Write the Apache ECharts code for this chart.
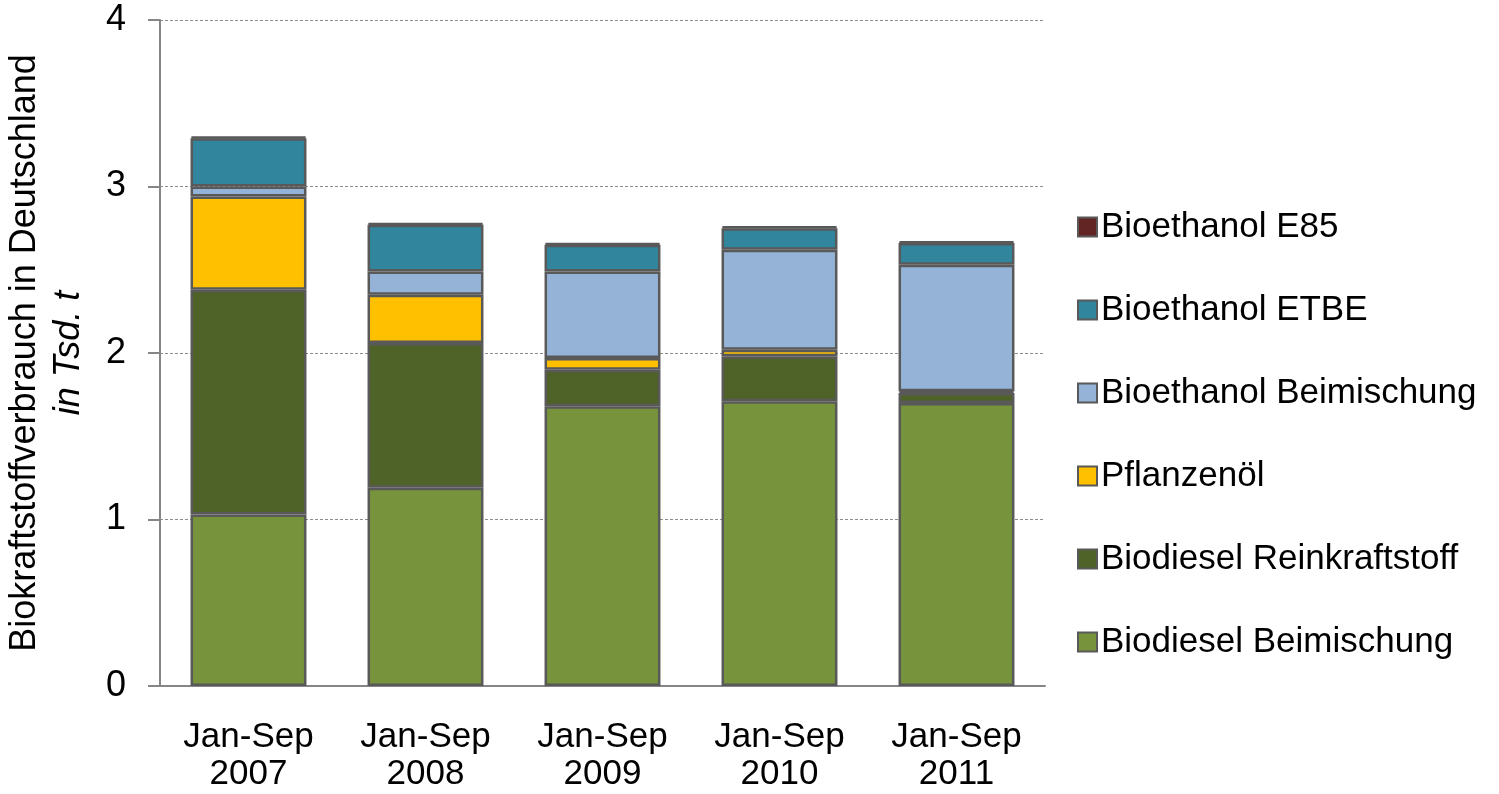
<!DOCTYPE html>
<html><head><meta charset="utf-8">
<script src="https://cdn.jsdelivr.net/npm/echarts@6/dist/echarts.min.js"></script>
<style>html,body{margin:0;padding:0;background:#fff}#c{width:1499px;height:794px}</style>
</head><body><div id="c"></div>
<script>
const categories = ['Jan-Sep\n2007','Jan-Sep\n2008','Jan-Sep\n2009','Jan-Sep\n2010','Jan-Sep\n2011'];
const biodieselBeimischung = [1.03, 1.19, 1.68, 1.71, 1.70];
const biodieselRein = [1.35, 0.87, 0.22, 0.27, 0.06];
const pflanzenoel = [0.56, 0.29, 0.07, 0.04, 0.01];
const bioethanolBeimischung = [0.06, 0.14, 0.52, 0.60, 0.76];
const bioethanolETBE = [0.29, 0.28, 0.16, 0.13, 0.13];
const bioethanolE85 = [0.01, 0.01, 0.01, 0.01, 0.01];
const yTicks = [0, 1, 2, 3, 4];

const font = '"Liberation Sans", Arial, sans-serif';
const seriesDefs = [
  ['Biodiesel Beimischung', biodieselBeimischung, '#77933C'],
  ['Biodiesel Reinkraftstoff', biodieselRein, '#4F6228'],
  ['Pflanzenöl', pflanzenoel, '#FFC000'],
  ['Bioethanol Beimischung', bioethanolBeimischung, '#95B3D7'],
  ['Bioethanol ETBE', bioethanolETBE, '#31859C'],
  ['Bioethanol E85', bioethanolE85, '#632523']
];
const chart = echarts.init(document.getElementById('c'));
chart.setOption({
  animation: false,
  grid: {left: 160, right: 1499 - 1045, top: 20, bottom: 794 - 686, outerBoundsMode: 'none', containLabel: false},
  legend: {
    orient: 'vertical', left: 1072, top: 204,
    data: seriesDefs.map(s => s[0]).reverse(),
    icon: 'rect', itemWidth: 19, itemHeight: 19, itemGap: 47,
    textStyle: {fontFamily: font, fontSize: 35, color: '#000', lineHeight: 36, padding: [0,0,0,-1]},
    selectedMode: false
  },
  xAxis: {
    type: 'category', data: categories,
    axisLine: {lineStyle: {color: '#868686', width: 2}},
    axisTick: {show: false},
    axisLabel: {fontFamily: font, fontSize: 35, color: '#000', lineHeight: 37, margin: 33, interval: 0}
  },
  yAxis: {
    type: 'value', min: 0, max: 4, interval: 1,
    axisLine: {show: true, lineStyle: {color: '#868686', width: 2}},
    axisTick: {show: true, length: 12, lineStyle: {color: '#868686', width: 2}},
    axisLabel: {fontFamily: font, fontSize: 36, color: '#000', margin: 34,
      formatter: v => yTicks.includes(v) ? String(v) : ''},
    splitLine: {lineStyle: {color: '#8c8c8c', type: [3, 2], width: 1}},
    name: '{a|Biokraftstoffverbrauch in Deutschland}\n{b|in Tsd. t}',
    nameLocation: 'middle', nameRotate: 90, nameGap: 70,
    nameTextStyle: {
      fontFamily: font, color: '#000', lineHeight: 43,
      rich: {
        a: {fontFamily: font, fontSize: 36, color: '#000', lineHeight: 43},
        b: {fontFamily: font, fontSize: 36, fontStyle: 'italic', color: '#000', lineHeight: 43}
      }
    }
  },
  series: seriesDefs.map(([name, data, color]) => ({
    name, type: 'bar', stack: 'total', data, barWidth: '65.5%',
    itemStyle: {color, borderColor: '#595959', borderWidth: 2.5}
  }))
});
</script></body></html>
